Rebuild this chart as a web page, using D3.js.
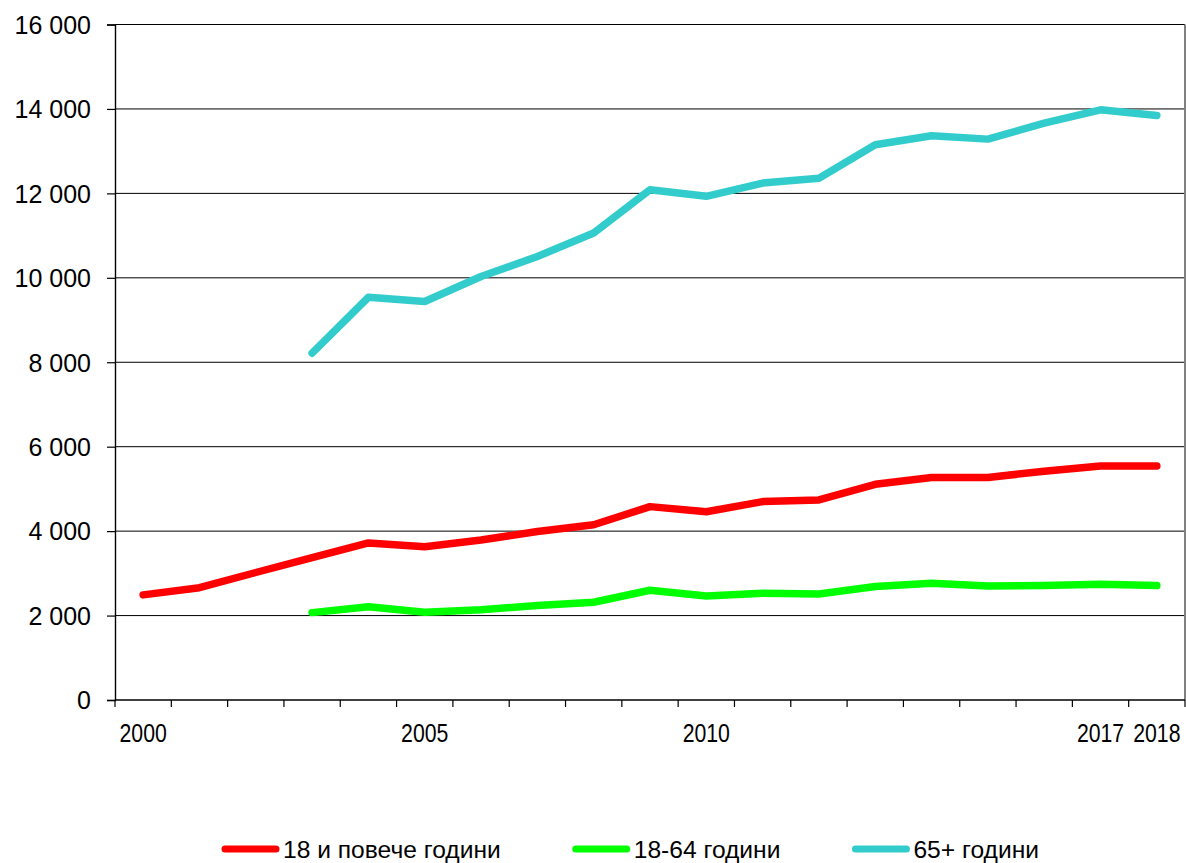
<!DOCTYPE html>
<html>
<head>
<meta charset="utf-8">
<script src="https://cdn.jsdelivr.net/npm/d3@7"></script>
<style>
  html, body { margin: 0; padding: 0; background: #fff; }
  svg { display: block; }
  text { font-family: Arial, "Liberation Sans", sans-serif; fill: #000; }
</style>
</head>
<body>
<svg id="chart" width="1186" height="863"></svg>
<script>
const years = [2000, 2001, 2002, 2003, 2004, 2005, 2006, 2007, 2008, 2009, 2010, 2011, 2012, 2013, 2014, 2015, 2016, 2017, 2018];
const labelYears = [2000, 2005, 2010, 2017, 2018];
const yTicks = [0, 2000, 4000, 6000, 8000, 10000, 12000, 14000, 16000];

const seriesNames = ["18 и повече години", "18-64 години", "65+ години"];
const seriesColors = ["#FF0000", "#00FF00", "#33CCCC"];

const total18plus = [2490, 2660, 3020, 3370, 3720, 3630, 3790, 3990, 4150, 4580, 4460, 4700, 4740, 5110, 5270, 5270, 5420, 5545, 5545];
const age18to64   = [null, null, null, 2070, 2210, 2080, 2135, 2240, 2315, 2600, 2465, 2530, 2512, 2690, 2765, 2700, 2710, 2742, 2710];
const age65plus   = [null, null, null, 8215, 9540, 9440, 10030, 10505, 11060, 12085, 11930, 12245, 12360, 13150, 13365, 13285, 13665, 13980, 13845];

const seriesValues = [total18plus, age18to64, age65plus];

const svg = d3.select("#chart");
const plot = { left: 115, right: 1185, top: 24.5, bottom: 700 };

const x = d3.scaleBand().domain(years).range([plot.left, plot.right]).padding(0);
const y = d3.scaleLinear().domain([0, 16000]).range([plot.bottom, plot.top]);
const fmt = d3.formatLocale({ decimal: ",", thousands: " ", grouping: [3], currency: ["", ""] }).format(",d");

// gridlines
svg.append("g").selectAll("line").data(yTicks.filter(d => d > 0)).join("line")
  .attr("x1", plot.left).attr("x2", plot.right)
  .attr("y1", d => y(d)).attr("y2", d => y(d))
  .attr("stroke", "#000").attr("stroke-width", 1);

// right border
svg.append("line").attr("x1", plot.right).attr("x2", plot.right)
  .attr("y1", plot.top).attr("y2", plot.bottom)
  .attr("stroke", "#808080").attr("stroke-width", 2);

// y axis
const yAxis = svg.append("g").attr("transform", `translate(${plot.left},0)`)
  .call(d3.axisLeft(y).tickValues(yTicks).tickFormat(fmt).tickSize(8).tickPadding(16));
yAxis.select(".domain").attr("stroke", "#000").attr("stroke-width", 1.4);
yAxis.selectAll(".tick line").attr("stroke", "#000").attr("stroke-width", 1.2);
yAxis.selectAll(".tick text")
  .attr("font-size", 25).attr("font-family", "Arial, 'Liberation Sans', sans-serif")
  .attr("fill", "#000").attr("dy", "0.35em");

// x axis line
svg.append("line").attr("x1", plot.left).attr("x2", plot.right)
  .attr("y1", plot.bottom).attr("y2", plot.bottom)
  .attr("stroke", "#000").attr("stroke-width", 1.4);

// x ticks at category boundaries
const boundaries = years.map(d => x(d)).concat([x(years[years.length - 1]) + x.bandwidth()]);
svg.append("g").selectAll("line").data(boundaries).join("line")
  .attr("x1", d => d).attr("x2", d => d)
  .attr("y1", plot.bottom).attr("y2", plot.bottom + 7)
  .attr("stroke", "#000").attr("stroke-width", 1.2);

// x labels (condensed)
svg.append("g").selectAll("text").data(labelYears).join("text")
  .attr("transform", d => `translate(${x(d) + x.bandwidth() / 2},742) scale(0.85,1)`)
  .attr("text-anchor", "middle")
  .attr("font-size", 25)
  .text(d => d);

// lines
const line = d3.line()
  .defined(d => d.v !== null)
  .x(d => x(d.year) + x.bandwidth() / 2)
  .y(d => y(d.v));

seriesValues.forEach((vals, i) => {
  const data = years.map((yr, j) => ({ year: yr, v: vals[j] }));
  svg.append("path").datum(data)
    .attr("d", line)
    .attr("fill", "none")
    .attr("stroke", seriesColors[i])
    .attr("stroke-width", 7.5)
    .attr("stroke-linecap", "round")
    .attr("stroke-linejoin", "round");
});

// legend
const legend = svg.append("g");
let lx = 222;
const ly = 849;
seriesNames.forEach((name, i) => {
  legend.append("line")
    .attr("x1", lx + 3).attr("x2", lx + 54)
    .attr("y1", ly).attr("y2", ly)
    .attr("stroke", seriesColors[i]).attr("stroke-width", 7)
    .attr("stroke-linecap", "round");
  const t = legend.append("text")
    .attr("x", lx + 61).attr("y", ly + 9)
    .attr("font-size", 24.6)
    .text(name);
  const w = t.node().getComputedTextLength();
  lx = lx + 61 + w + 72;
});
</script>
</body>
</html>
